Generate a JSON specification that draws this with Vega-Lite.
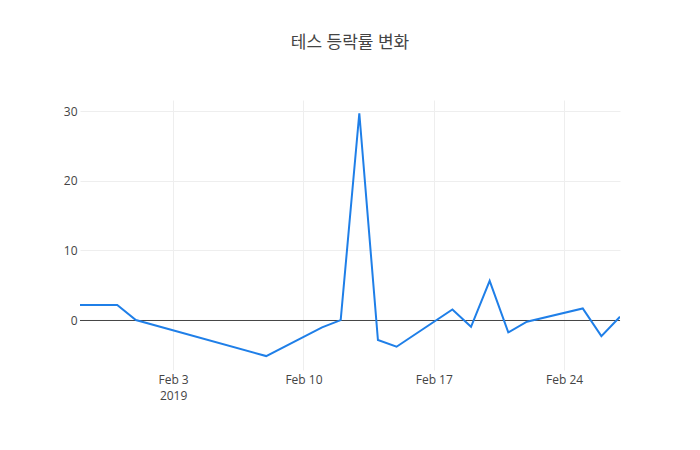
{
  "$schema": "https://vega.github.io/schema/vega-lite/v6.json",
  "width": 540,
  "height": 270,
  "autosize": "none",
  "padding": {"left": 80, "top": 100, "right": 80, "bottom": 80},
  "background": "white",
  "config": {
    "view": {"stroke": null},
    "font": "Open Sans",
    "axis": {"labelFont": "Open Sans", "labelColor": "#444", "labelFontSize": 12}
  },
  "title": {
    "text": "테스 등락률 변화",
    "font": "Open Sans, Noto Sans CJK KR",
    "fontSize": 17,
    "fontWeight": "normal",
    "color": "#444",
    "anchor": "middle",
    "frame": "group",
    "offset": 48
  },
  "datasets": {
    "series": [
      {"date": "2019-01-29T00:00:00", "change": 2.15},
      {"date": "2019-01-31T00:00:00", "change": 2.15},
      {"date": "2019-02-01T00:00:00", "change": 0.0},
      {"date": "2019-02-08T00:00:00", "change": -5.17},
      {"date": "2019-02-11T00:00:00", "change": -1.05},
      {"date": "2019-02-12T00:00:00", "change": 0.0},
      {"date": "2019-02-13T00:00:00", "change": 29.7},
      {"date": "2019-02-14T00:00:00", "change": -2.87},
      {"date": "2019-02-15T00:00:00", "change": -3.83},
      {"date": "2019-02-18T00:00:00", "change": 1.53},
      {"date": "2019-02-19T00:00:00", "change": -0.96},
      {"date": "2019-02-20T00:00:00", "change": 5.64},
      {"date": "2019-02-21T00:00:00", "change": -1.77},
      {"date": "2019-02-22T00:00:00", "change": -0.24},
      {"date": "2019-02-25T00:00:00", "change": 1.67},
      {"date": "2019-02-26T00:00:00", "change": -2.3},
      {"date": "2019-02-27T00:00:00", "change": 0.48}
    ],
    "zero": [{"y": 0}]
  },
  "layer": [
    {
      "data": {"name": "zero"},
      "mark": {"type": "rule", "color": "#444", "strokeWidth": 1, "yOffset": 0.43},
      "encoding": {
        "y": {"field": "y", "type": "quantitative", "scale": {"domain": [-7.17, 31.6], "nice": false, "zero": false}}
      }
    },
    {
      "data": {"name": "series"},
      "mark": {"type": "line", "color": "#1f7fe8", "strokeWidth": 2, "clip": true},
      "encoding": {
        "x": {
          "field": "date",
          "type": "temporal",
          "title": null,
          "scale": {
            "domain": [
              {"year": 2019, "month": 1, "date": 29},
              {"year": 2019, "month": 2, "date": 27}
            ],
            "nice": false
          },
          "axis": {
            "values": [
              {"year": 2019, "month": 2, "date": 3},
              {"year": 2019, "month": 2, "date": 10},
              {"year": 2019, "month": 2, "date": 17},
              {"year": 2019, "month": 2, "date": 24}
            ],
            "labelExpr": "date(datum.value) == 3 ? [timeFormat(datum.value, '%b %-d'), '2019'] : timeFormat(datum.value, '%b %-d')",
            "labelLineHeight": 16,
            "labelPadding": 4,
            "domain": false,
            "ticks": false,
            "grid": true,
            "gridColor": "#eee",
            "gridWidth": 1
          }
        },
        "y": {
          "field": "change",
          "type": "quantitative",
          "title": null,
          "scale": {"domain": [-7.17, 31.6], "nice": false, "zero": false},
          "axis": {
            "values": [0, 10, 20, 30],
            "domain": false,
            "ticks": false,
            "grid": true,
            "gridColor": "#eee",
            "gridWidth": 1,
            "labelPadding": 3
          }
        }
      }
    }
  ]
}
